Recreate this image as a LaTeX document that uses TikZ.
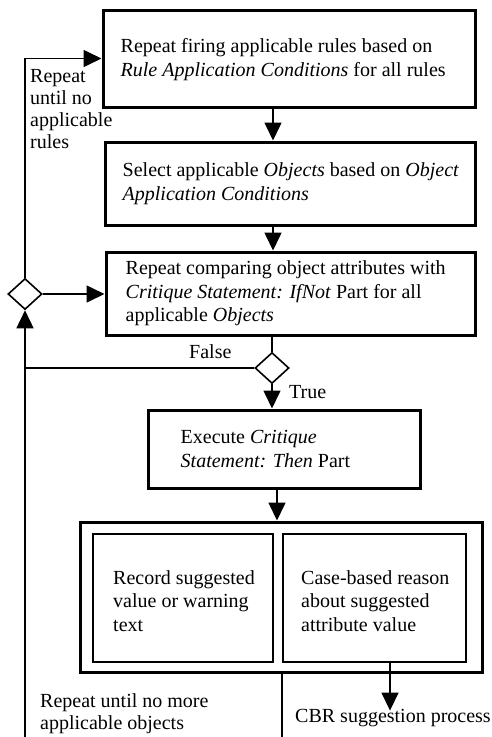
\documentclass[tikz,border=0pt]{standalone}
\usepackage{fontspec}
\setmainfont{Liberation Serif}
\usetikzlibrary{arrows.meta,shapes.geometric}

\begin{document}
\begin{tikzpicture}[x=1pt,y=-1pt,
  every node/.style={font=\fontsize{20}{23.5}\selectfont},
  box/.style={draw, line width=3pt, inner sep=0pt},
  innerbox/.style={draw, line width=2pt, inner sep=0pt},
  txt/.style={anchor=west, align=left, inner sep=0pt},
  lbl/.style={anchor=north west, align=left, inner sep=0pt,
    font=\fontsize{20}{22}\selectfont},
  decision/.style={draw, diamond, line width=1.6pt, minimum width=34pt,
    minimum height=31pt, inner sep=0pt},
  wire/.style={line width=1.6pt},
  arr/.style={wire, -{Triangle[length=18pt,width=17pt]}}
]
\useasboundingbox (0,0) rectangle (492,737);

% process boxes
\node[box, minimum width=372pt, minimum height=97pt] (b1) at (289,58.5) {};
\node[box, minimum width=370pt, minimum height=83pt] (b2) at (290,183.5) {};
\node[box, minimum width=369pt, minimum height=83pt] (b3) at (290.5,293.5) {};
\node[box, minimum width=272pt, minimum height=78pt] (b4) at (284,449) {};
\node[box, minimum width=402pt, minimum height=150pt] (outer) at (281,597) {};
\node[innerbox, minimum width=180pt, minimum height=128pt] (rec) at (183,598) {};
\node[innerbox, minimum width=183pt, minimum height=128pt] (cbr) at (374.5,598) {};

% box texts
\node[txt] (t1) at ([xshift=19pt,yshift=-1pt]b1.west)
  {Repeat firing applicable rules based on\\
   \textit{Rule Application Conditions} for all rules};
\node[txt] (t2) at ([xshift=19pt]b2.west)
  {Select applicable \textit{Objects} based on \textit{Object}\\
   \textit{Application Conditions}};
\node[txt] (t3) at ([xshift=21pt]b3.west)
  {Repeat comparing object attributes with\\
   \textit{Critique Statement: IfNot} Part for all\\
   applicable \textit{Objects}};
\node[txt] (t4) at ([xshift=34pt]b4.west)
  {Execute \textit{Critique}\\
   \textit{Statement: Then} Part};
\node[txt] (t5) at ([xshift=21pt,yshift=-3pt]rec.west)
  {Record suggested\\ value or warning\\ text};
\node[txt] (t6) at ([xshift=19pt,yshift=-3pt]cbr.west)
  {Case-based reason\\ about suggested\\ attribute value};

% decisions
\node[decision] (d1) at (25,294) {};
\node[decision] (d2) at (272,368) {};

% free ends at the lower edge
\coordinate (loopbot) at (25,737);
\coordinate (outbot) at (282,737);
\coordinate (col) at (273,0);
\coordinate (col4) at (277,0);
\coordinate (cbrx) at (390,0);

% labels
\node[lbl] (lrules) at (30,69.5)
  {Repeat\\ until no\\ applicable\\ rules};
\node[lbl] (lobj) at (40,693)
  {Repeat until no more\\ applicable objects};
\node[anchor=base west, inner sep=0pt] (lcbr) at (295,722)
  {CBR suggestion process};
\node[anchor=base west, inner sep=0pt] (lfalse) at (189,358) {False};
\node[anchor=base west, inner sep=0pt] (ltrue) at (289,398) {True};

% connectors
\draw[arr] (b1.south -| col) -- (b2.north -| col);
\draw[arr] (b2.south -| col) -- (b3.north -| col);
\draw[wire] (d2.north |- b3.south) -- (d2.north);
\draw[arr] (d2.south) -- (d2.south |- b4.north);
\draw[wire] (d2.west) -- (d2.west -| d1.south);
\draw[arr] (b4.south -| col4) -- (outer.north -| col4);
\draw[arr] (cbr.south -| cbrx) -- ([yshift=-2pt]lcbr.north -| cbrx);
\draw[wire] (outer.south -| outbot) -- (outbot);
\draw[arr] (loopbot) -- (d1.south);
\draw[arr] (d1.north) |- (b1.west);
\draw[arr] (d1.east) -- (d1.east -| b3.west);
\end{tikzpicture}
\end{document}
